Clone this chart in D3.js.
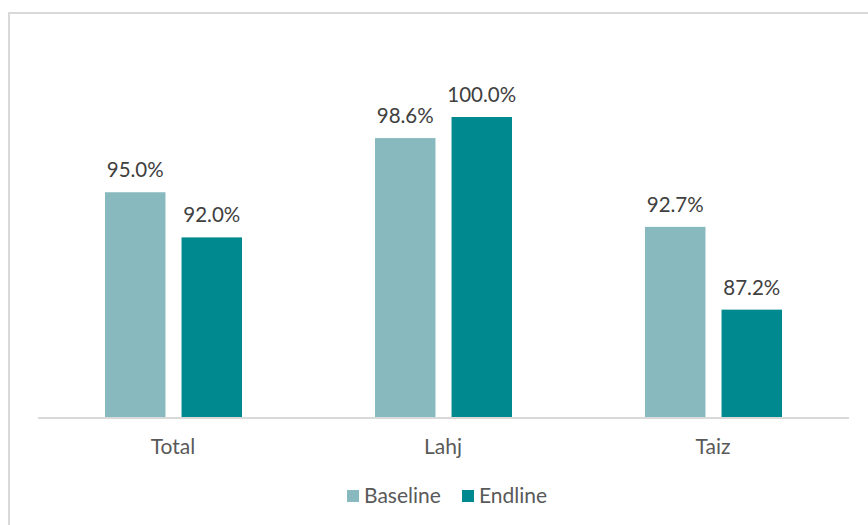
<!DOCTYPE html>
<html>
<head>
<meta charset="utf-8">
<script src="https://cdn.jsdelivr.net/npm/d3@7"></script>
<style>
  html, body { margin: 0; padding: 0; background: #fff; }
  svg { display: block; font-family: Lato, "Open Sans", sans-serif; }
</style>
</head>
<body>
<svg id="chart" width="868" height="525"></svg>
<script>
// Share of respondents, baseline vs endline, by location
const categories = ["Total", "Lahj", "Taiz"];
const seriesNames = ["Baseline", "Endline"];
const baselineValues = [95.0, 98.6, 92.7];
const endlineValues = [92.0, 100.0, 87.2];
const colors = ["#87b9be", "#00898e"];

const svg = d3.select("#chart");
const W = 868, H = 525;

// Outer chart frame
svg.append("rect")
  .attr("x", 9).attr("y", 13)
  .attr("width", W).attr("height", H)
  .attr("fill", "#fff")
  .attr("stroke", "#d9d9d9").attr("stroke-width", 2);

const plot = { left: 38, right: 848, top: 117, bottom: 418 };

const x0 = d3.scaleBand()
  .domain(categories)
  .range([plot.left, plot.right])
  .paddingInner(0).paddingOuter(0);

const x1 = d3.scaleBand()
  .domain(seriesNames)
  .range([67, 204])
  .paddingInner(0.21);

const y = d3.scaleLinear()
  .domain([80, 100])
  .range([plot.bottom, plot.top]);

const rows = categories.map((c, i) => ({
  category: c,
  values: [
    { series: seriesNames[0], value: baselineValues[i], color: colors[0] },
    { series: seriesNames[1], value: endlineValues[i], color: colors[1] }
  ]
}));

const groups = svg.append("g").selectAll("g")
  .data(rows).join("g")
  .attr("transform", d => `translate(${x0(d.category)},0)`);

groups.selectAll("rect")
  .data(d => d.values).join("rect")
  .attr("x", d => x1(d.series))
  .attr("width", x1.bandwidth())
  .attr("y", d => y(d.value))
  .attr("height", d => y(80) - y(d.value))
  .attr("fill", d => d.color);

groups.selectAll("text.val")
  .data(d => d.values).join("text")
  .attr("class", "val")
  .attr("x", d => x1(d.series) + x1.bandwidth() / 2)
  .attr("y", d => y(d.value) - 15)
  .attr("text-anchor", "middle")
  .attr("font-size", 20.5)
  .attr("fill", "#404040")
  .text(d => d.value.toFixed(1) + "%");

// Category axis
const xAxis = svg.append("g")
  .attr("transform", `translate(0,${plot.bottom})`)
  .call(d3.axisBottom(x0).tickSize(0).tickPadding(21));
xAxis.select(".domain").attr("stroke", "#d9d9d9").attr("stroke-width", 2)
  .attr("d", `M${plot.left},0H${plot.right + 1}`);
xAxis.selectAll("text")
  .attr("font-family", "Lato, 'Open Sans', sans-serif")
  .attr("font-size", 21)
  .attr("fill", "#595959");

// Legend
const legend = svg.append("g");
const legendItems = [
  { name: seriesNames[0], color: colors[0], x: 347 },
  { name: seriesNames[1], color: colors[1], x: 462 }
];
const li = legend.selectAll("g").data(legendItems).join("g")
  .attr("transform", d => `translate(${d.x},490)`);
li.append("rect").attr("width", 12).attr("height", 12).attr("fill", d => d.color);
li.append("text")
  .attr("x", 17).attr("y", 13)
  .attr("font-size", 21)
  .attr("fill", "#595959")
  .text(d => d.name);
</script>
</body>
</html>
